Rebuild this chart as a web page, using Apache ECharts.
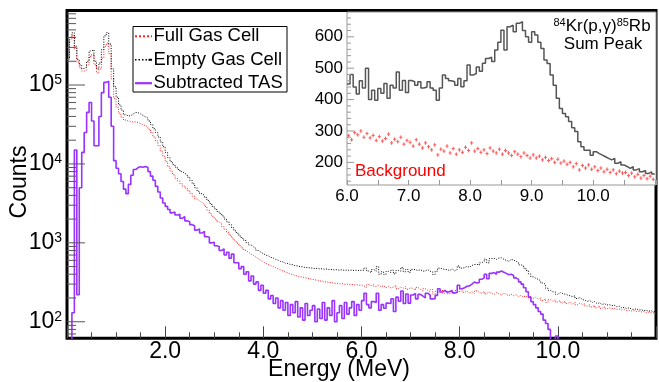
<!DOCTYPE html>
<html><head><meta charset="utf-8">
<script src="https://cdn.jsdelivr.net/npm/echarts@6/dist/echarts.min.js"></script>
<style>html,body{margin:0;padding:0;background:#fff}#c{width:659px;height:382px}</style>
</head><body><div id="c"></div>
<script>
// ---- data (bin width 0.05 MeV, values are counts per bin) ----
const binWidth = 0.05;
// Empty Gas Cell (black) 0.0 - 6.0 MeV
const emptyLow = [220000,400000,460000,310000,210000,180000,162000,170000,200000,270000,
 280000,200000,160000,190000,280000,420000,460000,330000,160000,95000,
 70000,56000,48000,42000,40500,41000,43000,45000,44500,43000,
 41000,39500,38000,35000,31500,28000,25000,22000,19000,16500,
 14000,12000,10700,9800,9100,8500,8000,7600,7300,6800,
 6200,5600,5000,4500,4200,4000,3750,3450,3150,2900,
 2700,2500,2350,2200,2000,1850,1700,1550,1420,1320,
 1220,1140,1070,1000,940,890,850,800,760,730,
 700,684,655,645,618,603,582,574,552,548,
 533,528,512,510,498,497,488,489,480,480,
 472,475,467,470,462,466,457,461,453,458,
 450,455,448,453,447,452,446,451,445,450];
// Full Gas Cell (red) 0.0 - 6.0 MeV
const fullLow = [210000,380000,430000,290000,195000,165000,150000,155000,180000,230000,
 245000,180000,142000,160000,220000,310000,340000,250000,120000,68000,
 52000,44000,39000,36000,35000,34500,34000,34000,33500,32500,
 31500,30500,29500,27500,25000,22000,19500,17000,14500,12500,
 10700,9200,8100,7300,6600,6100,5600,5250,4950,4600,
 4250,3900,3600,3400,3250,3100,2900,2600,2350,2150,
 2000,1850,1750,1600,1480,1360,1250,1150,1060,990,
 920,860,805,760,720,690,660,630,600,575,
 550,532,513,502,483,472,453,442,426,417,
 403,397,384,380,370,369,360,358,348,346,
 338,337,328,328,320,320,313,314,307,308,
 302,304,299,300,295,297,293,295,290,292];
// Sum peak region 6.0 - 11.0 MeV (black, inset and main)
const sumPeak = [450,480,440,418,460,437,500,400,430,398,
 435,420,451,404,446,437,488,430,461,423,
 461,457,446,457,437,440,457,437,430,398,
 437,478,467,460,457,446,467,441,460,510,
 478,483,504,490,516,531,535,521,558,583,
 621,558,632,637,616,643,648,620,600,583,
 616,606,583,563,526,515,478,446,404,372,
 356,345,330,310,298,266,250,239,239,223,
 234,228,223,218,213,208,213,197,202,192,
 187,181,186,176,180,170,174,165,170,163];
// Background 6.0 - 11.0 MeV (red, inset and main)
const background = [285,272,295,288,300,280,292,278,286,270,
 282,268,276,290,262,274,266,280,258,270,
 264,252,272,258,246,262,250,240,256,224,
 242,236,252,230,244,226,240,232,248,238,
 262,236,244,232,240,228,246,236,230,242,
 226,238,230,222,234,226,218,230,222,214,
 224,214,220,208,216,206,212,200,210,198,
 204,194,200,186,196,176,190,182,192,178,
 186,174,182,170,178,168,176,164,172,166,
 168,158,166,154,162,150,158,148,156,146];
const emptyTail = [165,160,162,155,158,150,152,147,150,145,143,146,140,142,138,140,136,138,134,135];
const fullTail = [150,146,148,143,145,141,143,139,140,137,138,135,136,133,134,131,132,130,130,128];
// Subtracted TAS (purple) 0.0 - 12.0 MeV
const subtracted = [10,10,130,15000,220,5000,14000,25000,45000,60000,35000,17000,17000,40000,80000,108000,112000,70000,30000,11000,
 8800,7500,6000,4800,4200,5500,7200,8500,9000,9200,9100,9300,9000,8000,7000,6200,5200,4400,3700,3200,
 2900,2650,2400,2450,2250,2300,2050,2150,1900,1850,1700,1650,1450,1500,1330,1400,1200,1180,1000,1020,
 920,900,800,840,700,760,640,720,560,560,470,500,400,430,330,380,300,320,250,290,
 230,250,195,215,170,200,150,185,140,175,120,165,130,180,115,150,105,170,120,140,
 160,100,145,110,175,105,150,120,185,100,130,160,110,175,125,150,180,120,165,140,
 185,230,165,150,180,175,230,140,165,148,172,170,196,135,205,182,245,170,225,172,
 218,228,195,222,212,200,230,218,195,196,216,262,238,250,236,242,248,232,235,290,
 262,270,282,285,300,318,310,315,345,360,400,350,410,420,400,425,440,425,410,395,
 400,385,360,345,320,300,270,240,205,180,165,150,135,125,105,95,80,58,45,66,
 20,10,10,10,10,10,10,10,10,10,10,10,10,10,10,10,10,10,10,10,
 10,10,10,10,10,10,10,10,10,10,10,10,10,10,10,10,10,10,10,10];
const seriesNames = ['Full Gas Cell','Empty Gas Cell','Subtracted TAS'];
const seriesColors = ['#ff2020','#000000','#9933ff'];
const mainDecades = [10,100,1000,10000,100000];
const insetMajor = [200,300,400,500,600];
const bgErr = 6;

// ---- helpers ----
function hist(vals, start){
  const out = vals.map((v,i)=>[+(start+i*binWidth).toFixed(3), v]);
  out.push([+(start+vals.length*binWidth).toFixed(3), vals[vals.length-1]]);
  return out;
}
const yMin = 61.7, yMax = 8.8e5;
const mainYTicks = [];
mainDecades.forEach(d=>{
  for(let m=1;m<=9;m++){ const v=m*d; if(v>yMin && v<yMax) mainYTicks.push([0, v, m===1?1:0]); }
});
const insetYMin = 128, insetYMax = 679;
const insetYTicks = [];
for(let v=140; v<insetYMax; v+=20){ insetYTicks.push([6, v, insetMajor.indexOf(v)>=0?1:0]); }

const FONT = 'Liberation Sans';
const chart = echarts.init(document.getElementById('c'));
function tickRender(color, majorLen, minorLen){
  return function(params, api){
    const p = api.coord([api.value(0), api.value(1)]);
    const len = api.value(2) ? majorLen : minorLen;
    return {type:'line', shape:{x1:p[0], y1:p[1], x2:p[0]+len, y2:p[1]}, style:{stroke:color, lineWidth:1}};
  };
}
// legend drawn as a framed box (lines + labels)
const legendRows = [36.3, 59.8, 83.2];
const legendIcons = [
  {type:'line', z:21, shape:{x1:135, y1:legendRows[0], x2:152, y2:legendRows[0]}, style:{stroke:seriesColors[0], lineWidth:2, lineDash:[2,2]}},
  {type:'line', z:21, shape:{x1:135, y1:legendRows[1], x2:147, y2:legendRows[1]}, style:{stroke:seriesColors[1], lineWidth:1.5, lineDash:[1.5,2]}},
  {type:'line', z:21, shape:{x1:148.5, y1:legendRows[1], x2:152, y2:legendRows[1]}, style:{stroke:seriesColors[1], lineWidth:2}},
  {type:'line', z:21, shape:{x1:135, y1:legendRows[2], x2:152, y2:legendRows[2]}, style:{stroke:seriesColors[2], lineWidth:2.2}}
];
const legendTexts = seriesNames.map((n,i)=>({type:'text', z:21, x:153.5, y:legendRows[i],
  style:{text:n, font:'18.5px "Liberation Sans"', fill:'#000', align:'left', verticalAlign:'middle'}}));

const option = {
  animation:false,
  textStyle:{fontFamily:FONT},
  grid:[
    {left:67, right:-2, top:10.5, bottom:43.7, show:true, borderColor:'#000', borderWidth:3, backgroundColor:'transparent'},
    {left:347, right:-2, top:12, bottom:197, show:true, borderColor:'#999', borderWidth:1, backgroundColor:'#fff'}
  ],
  xAxis:[
    {gridIndex:0, type:'value', min:0, max:12, interval:2,
     axisLine:{show:false}, splitLine:{show:false},
     axisTick:{show:true, inside:true, length:12, lineStyle:{color:'#444'}},
     minorTick:{show:true, splitNumber:4, length:6, lineStyle:{color:'#444'}},
     axisLabel:{fontSize:23, color:'#000', margin:2, fontFamily:FONT,
       formatter:v=> (v>0 && v<12) ? v.toFixed(1) : ''}},
    {gridIndex:1, type:'value', min:6, max:11.02, interval:0.5,
     axisLine:{show:false}, splitLine:{show:false},
     axisTick:{show:true, inside:true, length:5, lineStyle:{color:'#999'}},
     axisLabel:{fontSize:17, color:'#000', margin:3, fontFamily:FONT,
       formatter:v=> (Math.abs(v-Math.round(v))<1e-6 && v<10.5) ? v.toFixed(1) : ''}}
  ],
  yAxis:[
    {gridIndex:0, type:'log', logBase:10, min:yMin, max:yMax,
     axisLine:{show:false}, axisTick:{show:false}, splitLine:{show:false},
     axisLabel:{margin:5, formatter:v=>{
        const l = Math.log10(v); const r = Math.round(l);
        return Math.abs(l-r)<1e-6 ? '{b|10}{s|'+r+'}' : '';
      },
      rich:{b:{fontSize:23, lineHeight:24, color:'#000', fontFamily:FONT},
            s:{fontSize:14, lineHeight:17, verticalAlign:'top', color:'#000', fontFamily:FONT}}}},
    {gridIndex:1, type:'value', min:insetYMin, max:insetYMax,
     axisLine:{show:false}, axisTick:{show:false}, splitLine:{show:false},
     axisLabel:{margin:4, fontSize:17, color:'#000', fontFamily:FONT,
       formatter:v=> (v%100===0) ? String(v) : ''}}
  ],
  series:[
    {name:seriesNames[0], type:'line', step:'end', symbol:'none', xAxisIndex:0, yAxisIndex:0,
     lineStyle:{color:seriesColors[0], width:1, type:[1,1.5]},
     data:hist(fullLow.concat(background, fullTail), 0)},
    {name:seriesNames[1], type:'line', step:'end', symbol:'none', xAxisIndex:0, yAxisIndex:0,
     lineStyle:{color:seriesColors[1], width:1, type:[1,1.5]},
     data:hist(emptyLow.concat(sumPeak, emptyTail), 0)},
    {name:seriesNames[2], type:'line', step:'end', symbol:'none', xAxisIndex:0, yAxisIndex:0,
     lineStyle:{color:seriesColors[2], width:1.6},
     data:hist(subtracted, 0)},
    {name:'mainYTicks', type:'custom', xAxisIndex:0, yAxisIndex:0, z:5, silent:true,
     renderItem:tickRender('#555', 18, 9), data:mainYTicks},
    {name:'sumPeak', type:'line', step:'end', symbol:'none', xAxisIndex:1, yAxisIndex:1,
     lineStyle:{color:'#555', width:1.5}, data:hist(sumPeak, 6)},
    {name:'background', type:'custom', xAxisIndex:1, yAxisIndex:1, silent:true,
     renderItem:function(params, api){
       const x = api.value(0), v = api.value(1);
       const t = api.coord([x, v+bgErr]), b = api.coord([x, v-bgErr]);
       const l = api.coord([x-binWidth/2, v]), r = api.coord([x+binWidth/2, v]);
       return {type:'group', children:[
         {type:'line', shape:{x1:t[0], y1:t[1], x2:b[0], y2:b[1]}, style:{stroke:'#ff5a5a', lineWidth:1}},
         {type:'line', shape:{x1:l[0], y1:l[1], x2:r[0], y2:r[1]}, style:{stroke:'#ff5a5a', lineWidth:1}}
       ]};
     },
     data:background.map((v,i)=>[+(6+(i+0.5)*binWidth).toFixed(3), v])},
    {name:'insetYTicks', type:'custom', xAxisIndex:1, yAxisIndex:1, z:5, silent:true,
     renderItem:tickRender('#999', 7, 4), data:insetYTicks}
  ],
  graphic:[
    {type:'rect', z:20, shape:{x:133, y:26.5, width:154, height:65.5},
     style:{fill:'#fff', stroke:'#000', lineWidth:1}}
  ].concat(legendIcons, legendTexts, [
    {type:'text', x:20, y:182, rotation:Math.PI/2,
     style:{text:'Counts', font:'23px "Liberation Sans"', fill:'#000', align:'center', verticalAlign:'middle'}},
    {type:'text', x:339, y:370,
     style:{text:'Energy (MeV)', font:'23px "Liberation Sans"', fill:'#000', align:'center', verticalAlign:'middle'}},
    {type:'text', x:602, y:26.5, z:10,
     style:{text:'{s|84}{n|Kr(p,γ)}{s|85}{n|Rb}', align:'center', verticalAlign:'middle',
       rich:{n:{fontSize:17, lineHeight:18, fontFamily:FONT, fill:'#000'},
             s:{fontSize:11, lineHeight:13, verticalAlign:'top', fontFamily:FONT, fill:'#000'}}}},
    {type:'text', x:603, y:44.5, z:10,
     style:{text:'Sum Peak', font:'17px "Liberation Sans"', fill:'#000', align:'center', verticalAlign:'middle'}},
    {type:'text', x:355, y:171.5, z:10,
     style:{text:'Background', font:'17px "Liberation Sans"', fill:'#ff0000', align:'left', verticalAlign:'middle'}}
  ])
};
chart.setOption(option);
</script>
</body></html>
